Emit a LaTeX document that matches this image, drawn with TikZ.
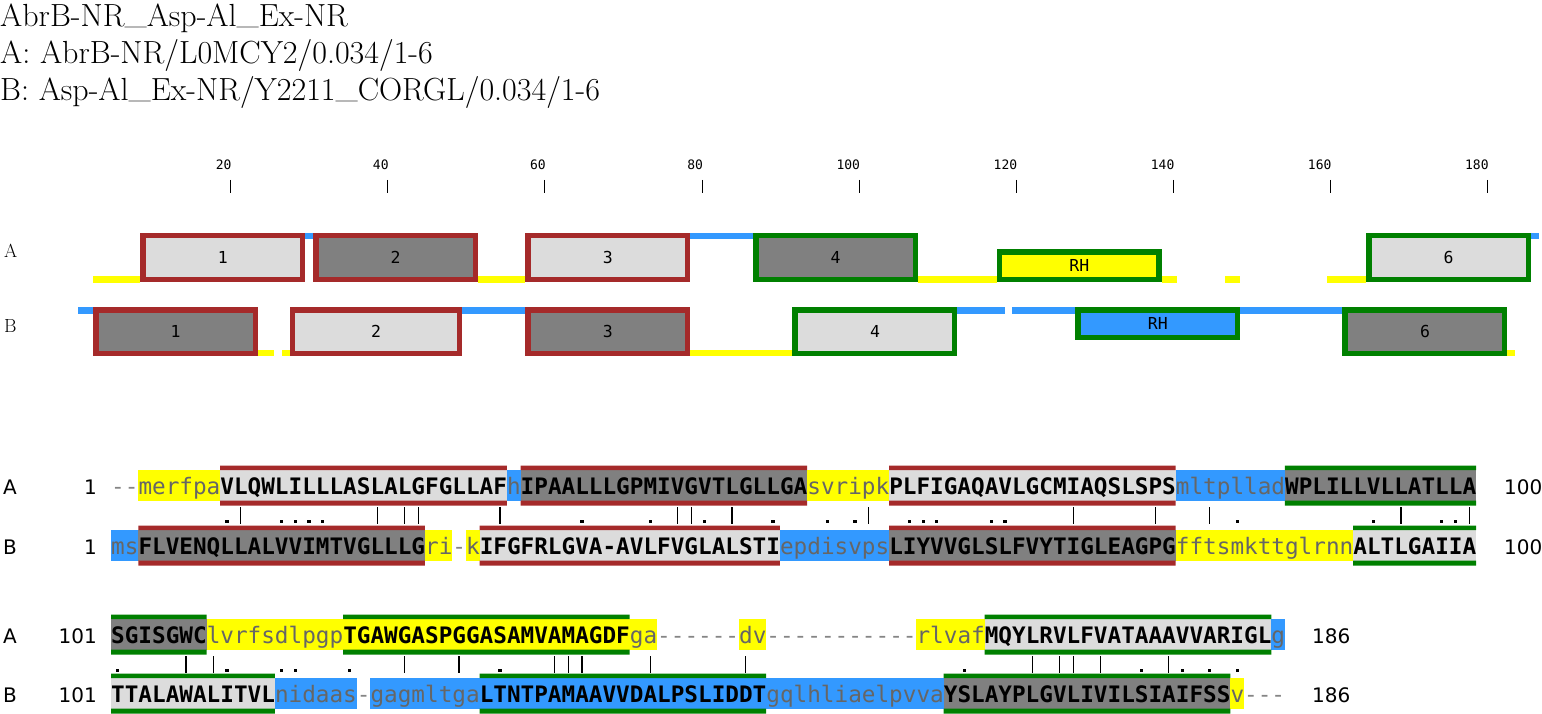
\documentclass[tikz,border=0pt]{standalone}
\usepackage{fontspec}
\usepackage{xcolor}
\newfontfamily\seqfont{DejaVu Sans Mono}
\newfontfamily\numfont{DejaVu Sans}
\definecolor{hlYellow}{HTML}{FFFF00}
\definecolor{hlBlue}{HTML}{3399FF}
\definecolor{boxLight}{HTML}{DCDCDC}
\definecolor{boxDark}{HTML}{808080}
\definecolor{domRed}{HTML}{A52A2A}
\definecolor{domGreen}{HTML}{008000}
\definecolor{lowGray}{HTML}{666666}
% column positions (overview start/end, alignment start)
\newcommand\ovS[1]{77.5+7.857*(#1-1)}
\newcommand\ovE[1]{77.5+7.857*(#1)}
\newcommand\alS[1]{111+13.65*(#1-1)}
\newcommand\usc{\raisebox{0.1em}{\_}}
\tikzset{
titleText/.style={anchor=base west, inner sep=0pt, font=\fontsize{32}{38}\selectfont},
rulerTick/.style={draw=black, line width=1pt},
rulerLabel/.style={anchor=base east, inner sep=0pt, font=\seqfont\fontsize{13}{15}\selectfont},
rowLabel/.style={anchor=base west, inner sep=0pt, font=\fontsize{19}{22}\selectfont},
ovFrame/.style={line width=5.5pt},
ovLabel/.style={inner sep=0pt, font=\seqfont\fontsize{16.5}{19}\selectfont},
seqUp/.style={anchor=base west, inner sep=0pt, font=\seqfont\bfseries\fontsize{22.67}{26}\selectfont},
seqLow/.style={anchor=base west, inner sep=0pt, text=lowGray, font=\seqfont\fontsize{22.67}{26}\selectfont},
seqGap/.style={seqLow, text=lowGray!80},
alLabel/.style={inner sep=0pt, font=\numfont\fontsize{20}{24}\selectfont},
matchBar/.style={draw=black, line width=1.2pt}
}
% overview pieces
\newcommand\ovline[4]{\fill[#4] ({\ovS{#1}},#3) rectangle ({\ovE{#2}},{#3+6.5});}
\newcommand\ovbox[8]{%
 \draw[ovFrame, draw=#7, fill=#6] ({\ovS{#2}+2.75},{#4+2.75}) rectangle ({\ovE{#3}-2.75},{#5-2.75});
 \node[ovLabel] (#1) at ({(\ovS{#2}+\ovE{#3})/2},{(#4+#5)/2}) {#8};}
% alignment pieces
\newcommand\seqseg[6]{%
 \fill[#4] ({\alS{#2}},#1) rectangle ({\alS{#2+#3}},{#1+30.5});
 \node[#5] (seq#1-#2) at ({\alS{#2}},{#1+24}) {#6};}
\newcommand\seqbar[4]{%
 \fill[#4] ({\alS{#2}},{#1-4.5}) rectangle ({\alS{#2+#3}},#1)
  ({\alS{#2}},{#1+30.5}) rectangle ({\alS{#2+#3}},{#1+35.5});}
\newcommand\seqgap[3]{%
 \foreach \g in {1,...,#3} \node[seqGap] (gap#1-#2-\g) at ({\alS{#2+\g-1}},{#1+24}) {-};}
\newcommand\seqmarks[3]{%
 \foreach \m in {#2} \draw[matchBar] ({\alS{\m}+6.8},{#1+37}) -- ({\alS{\m}+6.8},{#1+54});
 \foreach \m in {#3} \fill ({\alS{\m}+5.2},{#1+50}) rectangle +(3.2,3.2);}

\begin{document}
\begin{tikzpicture}[x=1pt,y=-1pt]
\useasboundingbox (0,0) rectangle (1542,714);
% header
\node[titleText] (title) at (0,27) {AbrB-NR\usc Asp-Al\usc Ex-NR};
\node[titleText] (titleA) at (0,64) {A: AbrB-NR/L0MCY2/0.034/1-6};
\node[titleText] (titleB) at (0,101) {B: Asp-Al\usc Ex-NR/Y2211\usc CORGL/0.034/1-6};

% ruler
\foreach \k in {1,...,9}{
 \pgfmathtruncatemacro\pos{20*\k}
 \draw[rulerTick] ({\ovS{\pos}+3.93},180) -- ({\ovS{\pos}+3.93},193.5);
 \node[rulerLabel] (tick\pos) at ({\ovS{\pos}+4.9},169.5) {\pos};
}

% overview
\node[rowLabel] (ovA) at (4,258) {A};
\node[rowLabel] (ovB) at (4,332) {B};
\foreach \a/\b in {3/8,52/57,108/117,139/140,147/148,160/164} \ovline{\a}{\b}{276}{hlYellow};
\foreach \a/\b in {30/30,79/86,186/186} \ovline{\a}{\b}{233}{hlBlue};
\foreach \a/\b in {24/25,27/27,79/91,183/183} \ovline{\a}{\b}{349.5}{hlYellow};
\foreach \a/\b in {1/2,50/57,113/118,120/127,149/161} \ovline{\a}{\b}{307}{hlBlue};
\ovbox{ovA1}{9}{29}{233}{282}{boxLight}{domRed}{1}
\ovbox{ovA2}{31}{51}{233}{282}{boxDark}{domRed}{2}
\ovbox{ovA3}{58}{78}{233}{282}{boxLight}{domRed}{3}
\ovbox{ovA4}{87}{107}{233}{282}{boxDark}{domGreen}{4}
\ovbox{ovARH}{118}{138}{249}{282}{hlYellow}{domGreen}{RH}
\ovbox{ovA6}{165}{185}{233}{282}{boxLight}{domGreen}{6}
\ovbox{ovB1}{3}{23}{307}{356}{boxDark}{domRed}{1}
\ovbox{ovB2}{28}{49}{307}{356}{boxLight}{domRed}{2}
\ovbox{ovB3}{58}{78}{307}{356}{boxDark}{domRed}{3}
\ovbox{ovB4}{92}{112}{307}{356}{boxLight}{domGreen}{4}
\ovbox{ovBRH}{128}{148}{307}{340}{hlBlue}{domGreen}{RH}
\ovbox{ovB6}{162}{182}{307}{356}{boxDark}{domGreen}{6}

% alignment, block 1
\node[alLabel, anchor=base west] (alA1) at (3,494) {A};
\node[alLabel, anchor=base east] (numA1) at (97,494) {1};
\node[alLabel, anchor=base west] (endA1) at (1504,494) {100};
\seqgap{470}{1}{2}
\seqseg{470}{3}{6}{hlYellow}{seqLow}{merfpa}
\seqseg{470}{9}{21}{boxLight}{seqUp}{VLQWLILLLASLALGFGLLAF}
\seqseg{470}{30}{1}{hlBlue}{seqLow}{h}
\seqseg{470}{31}{21}{boxDark}{seqUp}{IPAALLLGPMIVGVTLGLLGA}
\seqseg{470}{52}{6}{hlYellow}{seqLow}{svripk}
\seqseg{470}{58}{21}{boxLight}{seqUp}{PLFIGAQAVLGCMIAQSLSPS}
\seqseg{470}{79}{8}{hlBlue}{seqLow}{mltpllad}
\seqseg{470}{87}{14}{boxDark}{seqUp}{WPLILLVLLATLLA}
\seqbar{470}{9}{21}{domRed}
\seqbar{470}{31}{21}{domRed}
\seqbar{470}{58}{21}{domRed}
\seqbar{470}{87}{14}{domGreen}
\seqmarks{470}{10,20,22,23,29,42,43,46,56,71,77,81,95,100}{9,13,14,15,16,35,40,44,49,53,55,59,60,61,65,66,83,93,98,99}

\node[alLabel, anchor=base west] (alB1) at (3,554) {B};
\node[alLabel, anchor=base east] (numB1) at (97,554) {1};
\node[alLabel, anchor=base west] (endB1) at (1504,554) {100};
\seqseg{530}{1}{2}{hlBlue}{seqLow}{ms}
\seqseg{530}{3}{21}{boxDark}{seqUp}{FLVENQLLALVVIMTVGLLLG}
\seqseg{530}{24}{2}{hlYellow}{seqLow}{ri}
\seqgap{530}{26}{1}
\seqseg{530}{27}{1}{hlYellow}{seqLow}{k}
\seqseg{530}{28}{22}{boxLight}{seqUp}{IFGFRLGVA-AVLFVGLALSTI}
\seqseg{530}{50}{8}{hlBlue}{seqLow}{epdisvps}
\seqseg{530}{58}{21}{boxDark}{seqUp}{LIYVVGLSLFVYTIGLEAGPG}
\seqseg{530}{79}{13}{hlYellow}{seqLow}{fftsmkttglrnn}
\seqseg{530}{92}{9}{boxLight}{seqUp}{ALTLGAIIA}
\seqbar{530}{3}{21}{domRed}
\seqbar{530}{28}{22}{domRed}
\seqbar{530}{58}{21}{domRed}
\seqbar{530}{92}{9}{domGreen}

% alignment, block 2
\node[alLabel, anchor=base west] (alA2) at (3,643) {A};
\node[alLabel, anchor=base east] (numA2) at (97,643) {101};
\node[alLabel, anchor=base west] (endA2) at (1312,643) {186};
\seqseg{619}{1}{7}{boxDark}{seqUp}{SGISGWC}
\seqseg{619}{8}{10}{hlYellow}{seqLow}{lvrfsdlpgp}
\seqseg{619}{18}{21}{hlYellow}{seqUp}{TGAWGASPGGASAMVAMAGDF}
\seqseg{619}{39}{2}{hlYellow}{seqLow}{ga}
\seqgap{619}{41}{6}
\seqseg{619}{47}{2}{hlYellow}{seqLow}{dv}
\seqgap{619}{49}{11}
\seqseg{619}{60}{5}{hlYellow}{seqLow}{rlvaf}
\seqseg{619}{65}{21}{boxLight}{seqUp}{MQYLRVLFVATAAAVVARIGL}
\seqseg{619}{86}{1}{hlBlue}{seqLow}{g}
\seqbar{619}{1}{7}{domGreen}
\seqbar{619}{18}{21}{domGreen}
\seqbar{619}{65}{21}{domGreen}
\seqmarks{619}{6,8,22,26,33,34,35,40,47,68,70,71,73,78}{1,9,13,14,18,29,63,76,79,81,83}

\node[alLabel, anchor=base west] (alB2) at (3,702) {B};
\node[alLabel, anchor=base east] (numB2) at (97,702) {101};
\node[alLabel, anchor=base west] (endB2) at (1312,702) {186};
\seqseg{678}{1}{12}{boxLight}{seqUp}{TTALAWALITVL}
\seqseg{678}{13}{6}{hlBlue}{seqLow}{nidaas}
\seqgap{678}{19}{1}
\seqseg{678}{20}{8}{hlBlue}{seqLow}{gagmltga}
\seqseg{678}{28}{21}{hlBlue}{seqUp}{LTNTPAMAAVVDALPSLIDDT}
\seqseg{678}{49}{13}{hlBlue}{seqLow}{gqlhliaelpvva}
\seqseg{678}{62}{21}{boxDark}{seqUp}{YSLAYPLGVLIVILSIAIFSS}
\seqseg{678}{83}{1}{hlYellow}{seqLow}{v}
\seqgap{678}{84}{3}
\seqbar{678}{1}{12}{domGreen}
\seqbar{678}{28}{21}{domGreen}
\seqbar{678}{62}{21}{domGreen}
\end{tikzpicture}
\end{document}
